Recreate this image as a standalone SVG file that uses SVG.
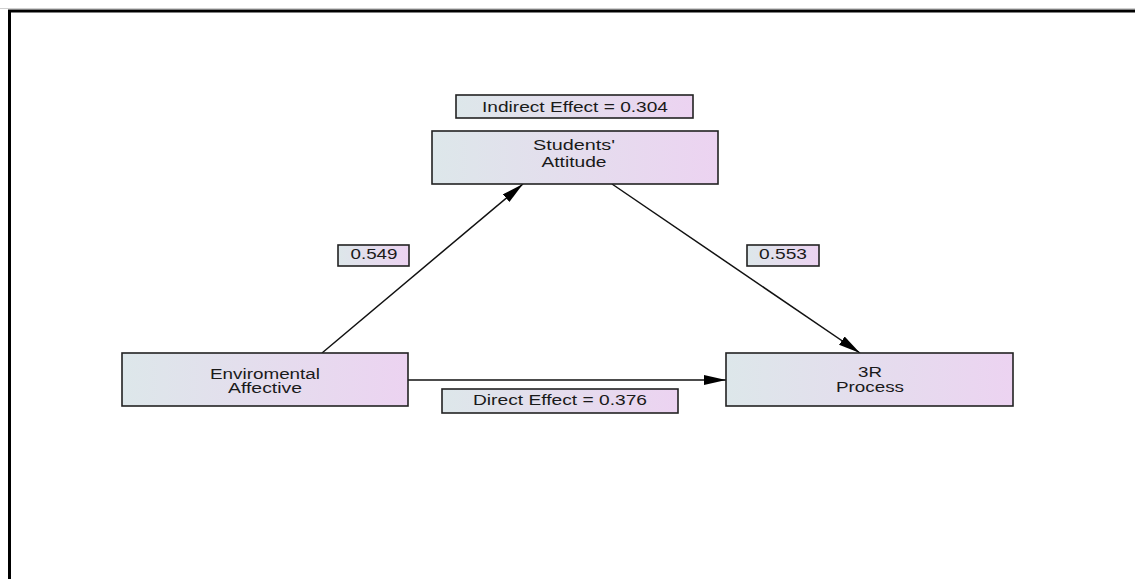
<svg xmlns="http://www.w3.org/2000/svg" width="1135" height="579" viewBox="0 0 1135 579">
  <defs>
    <linearGradient id="g" x1="0" y1="0" x2="1" y2="0">
      <stop offset="0" stop-color="#dde7ea"/>
      <stop offset="1" stop-color="#ecd3f1"/>
    </linearGradient>
    <marker id="arr" markerUnits="userSpaceOnUse" markerWidth="24" markerHeight="12" refX="22" refY="5" orient="auto">
      <path d="M0,0 L22,5 L0,10 Z" fill="#000"/>
    </marker>
    <style>
      .box { fill: url(#g); stroke: #222; stroke-width: 1.6; }
      .t { font-family: "Liberation Sans", Arial, sans-serif; font-size: 14px; fill: #1a1a1a; text-anchor: middle; }
      .c { stroke: #111; stroke-width: 1.5; fill: none; marker-end: url(#arr); }
    </style>
  </defs>
  <rect width="1135" height="579" fill="#fff"/>
  <line x1="0" y1="8.5" x2="1135" y2="8.5" stroke="#d0d0d0" stroke-width="1"/>
  <rect id="frame" x="9.5" y="11" width="1200" height="700" fill="none" stroke="#000" stroke-width="3"/>

  <g id="connectors">
    <line class="c" x1="322" y1="353" x2="523" y2="184"/>
    <line class="c" x1="612" y1="184" x2="860" y2="353"/>
    <line class="c" x1="408" y1="380" x2="726" y2="380"/>
  </g>

  <g id="indirect">
    <rect class="box" x="456" y="95" width="237" height="23"/>
    <text class="t" x="575" y="112" textLength="186" lengthAdjust="spacingAndGlyphs">Indirect Effect = 0.304</text>
  </g>
  <g id="students">
    <rect class="box" x="432" y="131" width="286" height="53"/>
    <text class="t" x="574" y="150" textLength="82" lengthAdjust="spacingAndGlyphs">Students'</text>
    <text class="t" x="574" y="167" textLength="65" lengthAdjust="spacingAndGlyphs">Attitude</text>
  </g>
  <g id="env">
    <rect class="box" x="122" y="353" width="286" height="53"/>
    <text class="t" x="265" y="379" textLength="110" lengthAdjust="spacingAndGlyphs">Enviromental</text>
    <text class="t" x="265" y="393" textLength="74" lengthAdjust="spacingAndGlyphs">Affective</text>
  </g>
  <g id="process">
    <rect class="box" x="726" y="353" width="287" height="53"/>
    <text class="t" x="870" y="377" textLength="24" lengthAdjust="spacingAndGlyphs">3R</text>
    <text class="t" x="870" y="392" textLength="68" lengthAdjust="spacingAndGlyphs">Process</text>
  </g>
  <g id="direct">
    <rect class="box" x="442" y="389" width="236" height="24"/>
    <text class="t" x="560" y="405" textLength="174" lengthAdjust="spacingAndGlyphs">Direct Effect = 0.376</text>
  </g>
  <g id="a549">
    <rect class="box" x="338" y="245" width="71" height="21"/>
    <text class="t" x="374" y="259" textLength="47" lengthAdjust="spacingAndGlyphs">0.549</text>
  </g>
  <g id="b553">
    <rect class="box" x="747" y="245" width="72" height="21"/>
    <text class="t" x="783" y="259" textLength="48" lengthAdjust="spacingAndGlyphs">0.553</text>
  </g>
</svg>
